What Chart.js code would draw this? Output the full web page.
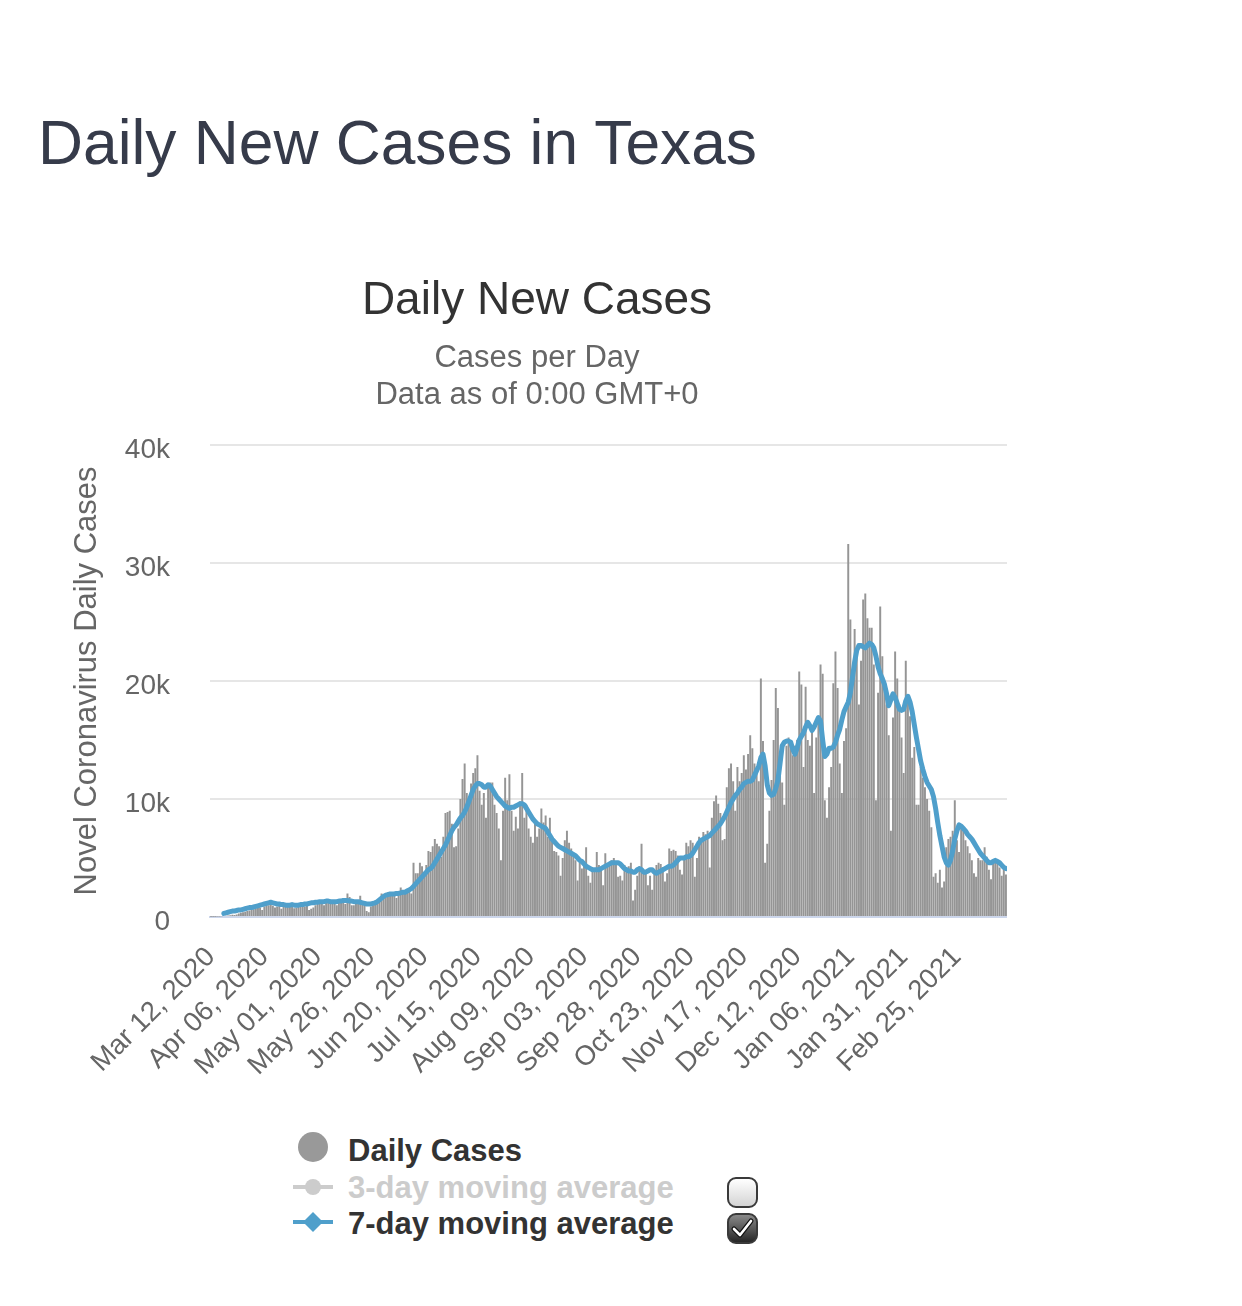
<!DOCTYPE html>
<html>
<head>
  <meta charset="UTF-8">
  <title>Daily New Cases in Texas</title>
  <script src="https://cdn.jsdelivr.net/npm/chart.js"></script>
  <style>
    body { margin: 0; background: #fff; font-family: "Liberation Sans", Arial, sans-serif; }
    #page { position: relative; width: 1242px; height: 1306px; overflow: hidden; }
    h1 { position: absolute; left: 38px; top: 108px; margin: 0; font-size: 62.3px; line-height: 70px; font-weight: normal; color: #363b4a; white-space: nowrap; }
    .chart-container { position: absolute; left: 67px; top: 250px; width: 940px; height: 827px; }
    .legend-text { position: absolute; left: 348px; height: 36px; line-height: 36px; font-size: 31px; font-weight: bold; color: #333; white-space: nowrap; }
    .legend-mark { position: absolute; left: 290px; }
    .check { position: absolute; left: 727px; width: 27px; height: 27px; border: 2px solid #3a3a3a; border-radius: 9px; box-sizing: content-box; }
  </style>
</head>
<body>
<div id="page">
  <h1>Daily New Cases in Texas</h1>

  <div class="chart-container">
    <canvas id="casesChart"></canvas>
  </div>

  <!-- legend -->
  <svg class="legend-mark" style="top:1130px" width="50" height="34"><circle cx="23" cy="17" r="15" fill="#999"/></svg>
  <div class="legend-text" style="top:1133px">Daily Cases</div>

  <svg class="legend-mark" style="top:1170px" width="50" height="34"><line x1="3" y1="17" x2="43" y2="17" stroke="#ccc" stroke-width="4"/><circle cx="23" cy="17" r="8" fill="#ccc"/></svg>
  <div class="legend-text" style="top:1170px; color:#ccc">3-day moving average</div>

  <svg class="legend-mark" style="top:1205px" width="50" height="34"><line x1="3" y1="17" x2="43" y2="17" stroke="#4f9fcb" stroke-width="4"/><path d="M23 7 L33 17 L23 27 L13 17 Z" fill="#4f9fcb"/></svg>
  <div class="legend-text" style="top:1206px">7-day moving average</div>

  <div class="check" style="top:1177px; background: linear-gradient(#ffffff, #d4d4d4);"></div>
  <div class="check" style="top:1213px; background: linear-gradient(#8a8a8a, #262626);">
    <svg width="27" height="27" style="position:absolute; left:0; top:0"><path d="M5 14 L11 20 L22 6" fill="none" stroke="#111" stroke-width="5" stroke-linecap="round" stroke-linejoin="round"/><path d="M5 14 L11 20 L22 6" fill="none" stroke="#fff" stroke-width="2.6" stroke-linecap="round" stroke-linejoin="round"/></svg>
  </div>
</div>

<script>
// daily values, from Mar 12, 2020 onwards
var dailyCases = [
  20, 30, 30, 50, 40, 60, 80, 100, 120, 150,
  200, 180, 220, 300, 350, 400, 450, 500, 550, 600,
  650, 750, 850, 800, 600, 900, 1100, 1000, 1100, 950,
  800, 900, 1000, 700, 950, 1100, 1000, 1000, 1150, 750,
  800, 1000, 1050, 950, 900, 1000, 600, 700, 800, 1000,
  1200, 1400, 1300, 1000, 1400, 1200, 1300, 1300, 1200, 1000,
  1300, 1300, 1400, 1100, 2000, 1700, 1000, 1000, 1100, 1300,
  1800, 1200, 1200, 500, 400, 900, 1000, 1400, 1400, 1500,
  2000, 1900, 1700, 2100, 1900, 1900, 1800, 1600, 2100, 2500,
  2100, 2000, 2300, 2200, 2000, 4600, 3700, 3700, 4600, 4300,
  3800, 4400, 5600, 5500, 6000, 6600, 6200, 6000, 5100, 6800,
  8800, 8900, 9000, 7900, 5900, 6000, 7500, 10000, 11700, 13000,
  10500, 9500, 11300, 12200, 12600, 13700, 10700, 9500, 10500, 8400,
  11100, 11400, 11400, 9500, 8800, 7500, 4800, 9000, 11800, 9900,
  12100, 9000, 7300, 8500, 7500, 9800, 12200, 8400, 9500, 7500,
  6800, 6300, 8000, 6800, 7500, 9200, 8000, 8600, 6800, 8400,
  6500, 5600, 5500, 5200, 3500, 5000, 6500, 7300, 6300, 5800,
  5100, 4800, 3100, 4600, 4100, 4500, 5900, 3500, 2900, 4000,
  4100, 5500, 4400, 4000, 2700, 5400, 4400, 4600, 4800, 5000,
  4700, 3400, 3500, 3100, 4400, 4100, 4300, 4600, 1400, 2300,
  3500, 4300, 6200, 4000, 3700, 2700, 3500, 2300, 3900, 4400,
  4600, 4500, 4200, 3000, 3700, 5800, 5600, 5700, 5600, 5200,
  4000, 3600, 5100, 6300, 6000, 6500, 6300, 3400, 5000, 6800,
  6500, 7200, 7000, 7300, 4200, 8400, 9800, 10300, 9600, 8800,
  6500, 6600, 11000, 12600, 13000, 11500, 9000, 12700, 11500, 12200,
  13700, 12500, 13800, 15400, 14300, 13000, 12600, 11500, 20200, 14900,
  4600, 6200, 9000, 11600, 15000, 19400, 17700, 14000, 11400, 9500,
  14500, 15200, 14900, 13700, 14500, 15000, 20800, 19700, 12700, 19500,
  15000, 14500, 15800, 10500, 15200, 17000, 21400, 20600, 9900, 8400,
  11000, 12700, 19800, 22500, 19400, 13000, 10500, 14900, 16000, 31600,
  25200, 19700, 24400, 22400, 18000, 21700, 26900, 27400, 25300, 24500,
  24500, 21400, 9900, 19000, 26300, 22100, 19400, 18000, 15400, 7300,
  16900, 22500, 20200, 18000, 15200, 12200, 21700, 18600, 17000, 13500,
  14400, 9500, 9500, 12700, 11800, 11000, 10000, 9000, 7600, 3400,
  3700, 2900, 4000, 2500, 3000, 5900, 6600, 6800, 7300, 9900,
  6500, 5500, 7600, 7300, 6500, 6000, 5400, 4800, 3700, 3400,
  5000, 4800, 4800, 5900, 5100, 4000, 3200, 4800, 4600, 4600,
  4200, 3500, 4200, 3600
];

var movingAvg7 = [
  null, null, null, null, null, null, 300, 350, 400, 450,
  500, 500, 550, 600, 600, 650, 700, 750, 800, 800,
  850, 900, 950, 1000, 1050, 1100, 1150, 1200, 1250, 1200,
  1150, 1100, 1100, 1050, 1050, 1000, 1000, 1000, 1050, 1000,
  1000, 1000, 1050, 1050, 1100, 1100, 1150, 1200, 1200, 1250,
  1250, 1300, 1300, 1300, 1350, 1350, 1300, 1300, 1300, 1300,
  1350, 1350, 1400, 1400, 1400, 1350, 1350, 1300, 1300, 1300,
  1250, 1200, 1150, 1100, 1100, 1100, 1150, 1200, 1300, 1450,
  1600, 1750, 1850, 1900, 1950, 1950, 1950, 2000, 2000, 2050,
  2100, 2100, 2200, 2300, 2400, 2600, 2800, 3000, 3200, 3400,
  3600, 3800, 4000, 4100, 4300, 4600, 4900, 5200, 5500, 5800,
  6100, 6500, 6900, 7300, 7600, 7800, 8100, 8400, 8600, 8900,
  9300, 9800, 10300, 10800, 11100, 11300, 11300, 11200, 11000, 11000,
  11200, 11100, 10800, 10500, 10200, 10000, 9800, 9600, 9400, 9300,
  9200, 9300, 9300, 9400, 9500, 9600, 9600, 9500, 9200, 8900,
  8600, 8300, 8100, 7900, 7800, 7700, 7600, 7500, 7200, 6900,
  6600, 6400, 6200, 6000, 5900, 5800, 5700, 5600, 5500, 5400,
  5300, 5200, 5000, 4800, 4700, 4500, 4300, 4200, 4100, 4000,
  4000, 4000, 4000, 4100, 4200, 4300, 4400, 4500, 4600, 4600,
  4600, 4600, 4500, 4300, 4100, 4000, 3900, 3900, 3800, 3800,
  4000, 4100, 4000, 3800, 3800, 3900, 4000, 4000, 3800, 3700,
  3800, 3900, 4000, 4100, 4200, 4300, 4300, 4400, 4600, 4800,
  5000, 5000, 5000, 5100, 5100, 5200, 5400, 5700, 6000, 6300,
  6500, 6600, 6700, 6800, 6900, 7100, 7300, 7500, 7700, 7900,
  8200, 8500, 8900, 9300, 9700, 10000, 10300, 10500, 10800, 11000,
  11300, 11400, 11500, 11500, 11600, 12000, 12400, 12800, 13500, 13800,
  12800, 11200, 10500, 10300, 10400, 10900, 11600, 13000, 14500, 14800,
  14900, 14900, 14800, 14200, 13800, 14300, 15000, 15300, 15600, 16100,
  16500, 16200, 15800, 16100, 16500, 16900, 16600, 15000, 13600, 13800,
  14300, 14300, 14400, 14800, 15400, 15900, 16700, 17400, 17800, 18200,
  19000, 20300, 21600, 22600, 23000, 23000, 22900, 22800, 23000, 23200,
  23100, 22800, 22100, 21200, 20600, 20200, 19700, 18900, 17900, 18400,
  18900, 18600, 18100, 17600, 17500, 17600, 18300, 18700, 18200, 17400,
  16300, 15200, 14200, 13200, 12500, 11900, 11400, 11100, 10800, 10200,
  9200, 8000, 6900, 6000, 5100, 4600, 4400, 4800, 5600, 6600,
  7300, 7800, 7700, 7500, 7300, 7000, 6800, 6600, 6300, 6000,
  5700, 5400, 5200, 5000, 4800, 4600, 4600, 4700, 4800, 4700,
  4600, 4400, 4200, 4100
];

var tickLabels = [
  'Mar 12, 2020', 'Apr 06, 2020', 'May 01, 2020', 'May 26, 2020', 'Jun 20, 2020',
  'Jul 15, 2020', 'Aug 09, 2020', 'Sep 03, 2020', 'Sep 28, 2020', 'Oct 23, 2020',
  'Nov 17, 2020', 'Dec 12, 2020', 'Jan 06, 2021', 'Jan 31, 2021', 'Feb 25, 2021'
];

var yTicks = [0, 10000, 20000, 30000, 40000];
var yTickLabels = ['0', '10k', '20k', '30k', '40k'];

var monthNames = ['Jan', 'Feb', 'Mar', 'Apr', 'May', 'Jun', 'Jul', 'Aug', 'Sep', 'Oct', 'Nov', 'Dec'];
var firstDay = Date.UTC(2020, 2, 12);

// one category per day
var dates = [];
for (var i = 0; i < dailyCases.length; i++) {
  var d = new Date(firstDay + i * 86400000);
  var day = d.getUTCDate();
  dates.push(monthNames[d.getUTCMonth()] + ' ' + (day < 10 ? '0' + day : day) + ', ' + d.getUTCFullYear());
}

var fontFamily = '"Liberation Sans", Arial, sans-serif';

var ctx = document.getElementById('casesChart').getContext('2d');
var casesChart = new Chart(ctx, {
  type: 'bar',
  data: {
    labels: dates,
    datasets: [{
      type: 'line',
      label: '7-day moving average',
      data: movingAvg7,
      borderColor: '#4f9fcb',
      borderWidth: 5,
      borderJoinStyle: 'round',
      borderCapStyle: 'round',
      pointRadius: 0,
      pointHoverRadius: 0,
      fill: false,
      tension: 0,
      order: 0
    }, {
      type: 'bar',
      label: 'Daily Cases',
      data: dailyCases,
      backgroundColor: '#959595',
      barPercentage: 0.92,
      categoryPercentage: 1,
      order: 1
    }]
  },
  options: {
    responsive: true,
    maintainAspectRatio: false,
    animation: false,
    layout: { padding: 0 },
    plugins: {
      legend: { display: false },
      tooltip: { enabled: false },
      title: {
        display: true,
        text: 'Daily New Cases',
        color: '#333333',
        font: { family: fontFamily, size: 46, weight: 'normal', lineHeight: 1.2 },
        padding: { top: 24, bottom: 0 }
      },
      subtitle: {
        display: true,
        text: ['Cases per Day', 'Data as of 0:00 GMT+0'],
        color: '#666666',
        font: { family: fontFamily, size: 31, weight: 'normal', lineHeight: 1.22 },
        padding: { top: 10, bottom: 30 }
      }
    },
    scales: {
      x: {
        grid: { display: false, drawTicks: false },
        border: { display: true, color: '#ccd6eb', width: 2 },
        ticks: {
          autoSkip: false,
          minRotation: 45,
          maxRotation: 45,
          padding: 24,
          color: '#666666',
          font: { family: fontFamily, size: 27.5 },
          callback: function (value, index) {
            return tickLabels.indexOf(dates[index]) >= 0 ? dates[index] : null;
          }
        },
        afterFit: function (scale) { scale.height = 160; }
      },
      y: {
        min: 0,
        max: 40000,
        afterBuildTicks: function (scale) {
          scale.ticks = yTicks.map(function (v) { return { value: v }; });
        },
        ticks: {
          padding: 40,
          labelOffset: 5,
          color: '#666666',
          font: { family: fontFamily, size: 28 },
          callback: function (value) {
            return yTickLabels[yTicks.indexOf(value)];
          }
        },
        grid: {
          drawTicks: false,
          lineWidth: 2,
          color: function (c) { return c.tick && c.tick.value === 0 ? '#ccd6eb' : '#e6e6e6'; }
        },
        border: { display: false },
        title: {
          display: true,
          text: 'Novel Coronavirus Daily Cases',
          color: '#666666',
          font: { family: fontFamily, size: 31 },
          padding: { top: 2, bottom: 0 }
        },
        afterFit: function (scale) { scale.width = 143; }
      }
    }
  }
});
</script>
</body>
</html>
